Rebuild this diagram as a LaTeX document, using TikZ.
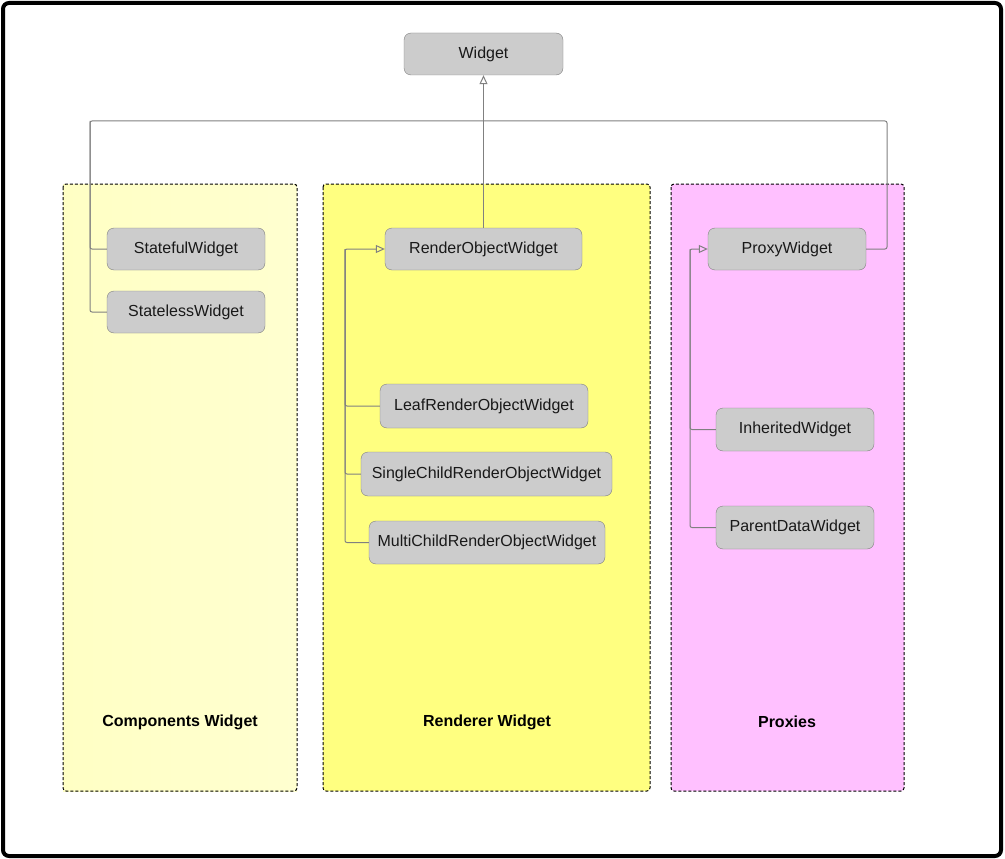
\documentclass[tikz,border=0pt]{standalone}
\usepackage{fontspec}
\setmainfont{Liberation Sans}
\usepackage{tikz}
\usetikzlibrary{arrows.meta}

\definecolor{boxgray}{HTML}{CCCCCC}
\definecolor{edgegray}{HTML}{808080}
\definecolor{paleyellow}{HTML}{FFFFC4}
\definecolor{paleyellowb}{HTML}{FFFFD0}
\definecolor{brightyellow}{HTML}{FFFF80}
\definecolor{proxypink}{HTML}{FFC0FF}

\tikzset{
  wbox/.style={draw=edgegray, fill=boxgray, rounded corners=7pt, inner sep=0pt,
    minimum height=42pt, font=\fontsize{16}{19}\selectfont, text=black!90},
  panel/.style={draw=black, dash pattern=on 3pt off 2pt, line width=1pt, rounded corners=3pt},
  panellbl/.style={font=\fontsize{16}{19}\selectfont\bfseries},
  wire/.style={draw=edgegray, line width=1pt, rounded corners=2pt},
  link/.style={wire, -{Triangle[open, length=9pt, width=8pt]}}
}

\begin{document}
\begin{tikzpicture}[x=1pt, y=-1pt]
      \useasboundingbox (0,0) rectangle (1005,859);
      \fill[white] (0,0) rectangle (1005,859);
      \draw[line width=4pt, rounded corners=6pt] (3,3) rectangle (1001,856);

      \shade[left color=paleyellow, right color=paleyellowb] (63,184) rectangle (297,791);
      \draw[panel] (63,184) rectangle (297,791);
      \draw[panel, fill=brightyellow] (323,184) rectangle (650,791);
      \draw[panel, fill=proxypink] (671,184) rectangle (904,791);

      \node[panellbl] (complbl) at (180,722) {Components Widget};
      \node[panellbl] (rendlbl) at (487,722) {Renderer Widget};
      \node[panellbl] (proxlbl) at (787,722) {Proxies};

      \node[wbox, minimum width=159pt] (widget) at (483.5,54) {Widget};
      \node[wbox, minimum width=158pt] (stateful) at (186,249) {StatefulWidget};
      \node[wbox, minimum width=158pt] (stateless) at (186,312) {StatelessWidget};
      \node[wbox, minimum width=197pt] (rend) at (483.5,249) {RenderObjectWidget};
      \node[wbox, minimum width=208pt, minimum height=44pt] (leaf) at (484,406) {LeafRenderObjectWidget};
      \node[wbox, minimum width=251pt, minimum height=44pt] (single) at (486.5,474) {SingleChildRenderObjectWidget};
      \node[wbox, minimum width=236pt, minimum height=43pt] (multi) at (487,542.5) {MultiChildRenderObjectWidget};
      \node[wbox, minimum width=158pt] (proxy) at (787,249) {ProxyWidget};
      \node[wbox, minimum width=158pt, minimum height=43pt] (inherited) at (795,429.5) {InheritedWidget};
      \node[wbox, minimum width=158pt, minimum height=43pt] (parentdata) at (795,527.5) {ParentDataWidget};

      \coordinate (topleft) at (90,121);
      \coordinate (topright) at (887,121);
      \coordinate (rbus) at (345,249);
      \coordinate (pbus) at (690,249);

      \draw[link] (rend.north) -- (widget.south);
      \draw[wire] (stateful.west) -| (topleft) -- (topright) |- (proxy.east);
      \draw[wire] (stateless.west) -| (topleft);

      \draw[link] (multi.west) -| (rbus) -- (rend.west);
      \draw[wire] (leaf.west) -| (rbus);
      \draw[wire] (single.west) -| (rbus);

      \draw[link] (parentdata.west) -| (pbus) -- (proxy.west);
      \draw[wire] (inherited.west) -| (pbus);
    \end{tikzpicture}
\end{document}
